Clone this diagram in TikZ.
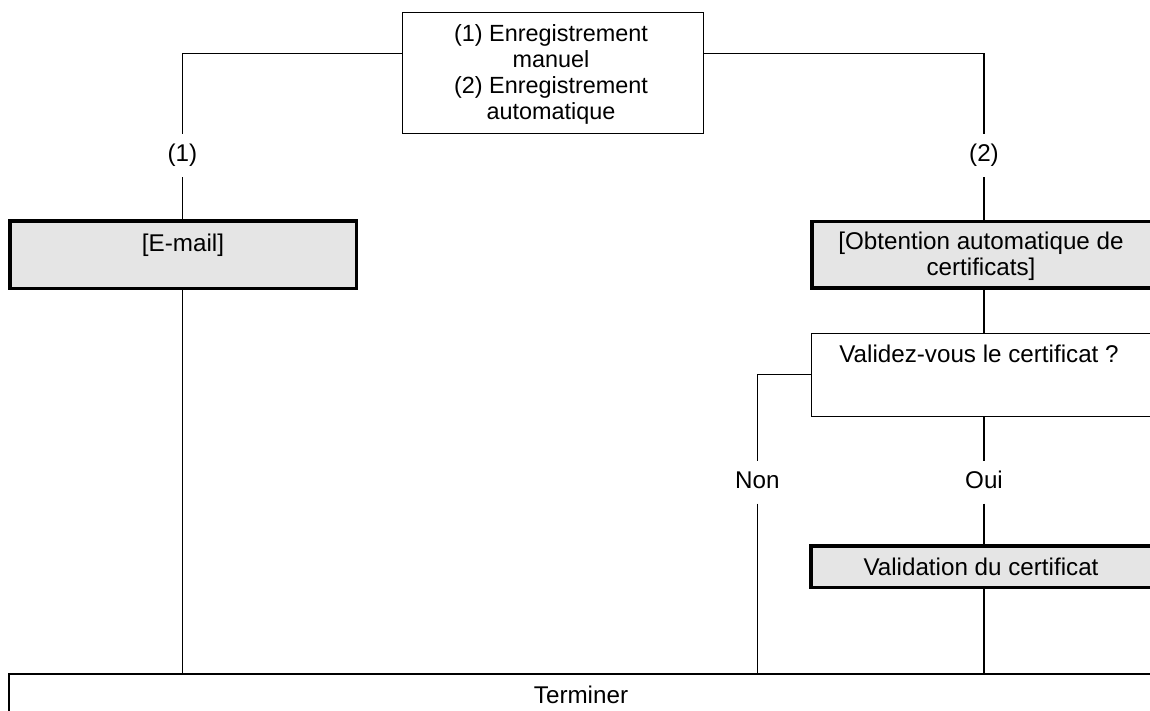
\documentclass[tikz,border=0pt]{standalone}
\usepackage{fontspec}
\setmainfont{Liberation Sans}
\begin{document}
\begin{tikzpicture}[x=1pt,y=-1pt,
  every node/.style={font=\fontsize{24.2}{26}\selectfont},
  thinbox/.style={draw, line width=1.2pt, rectangle, inner sep=0pt},
  graybox/.style={draw, fill=black!10, line width=3.5pt, rectangle, inner sep=0pt},
  txt/.style={anchor=base, inner sep=0pt},
  lbl/.style={inner xsep=2pt, inner ysep=10.5pt, text height=17pt, text depth=5pt},
  conn/.style={line width=1.2pt}]
\useasboundingbox (0,0) rectangle (1150,711);
\clip (0,0) rectangle (1150,711);
% boxes
\node[thinbox, minimum width=301pt, minimum height=121pt] (top) at (552.85,72.85) {};
\node[graybox, minimum width=346.5pt, minimum height=67pt] (email) at (183,254.75) {};
\node[graybox, minimum width=341.25pt, minimum height=66pt] (obt) at (982.4,254.75) {};
\node[thinbox, minimum width=341.65pt, minimum height=83pt] (val) at (982.2,374.85) {};
\node[graybox, minimum width=342.25pt, minimum height=41.5pt] (vld) at (981.9,566.5) {};
\node[thinbox, minimum width=1144pt, minimum height=66pt] (term) at (581,707) {};
% texts
\node[txt, font=\fontsize{23.4}{25.8}\selectfont] (toptxt) at (551,41.7) {\begin{tabular}[t]{@{}c@{}}(1) Enregistrement\\manuel\\(2) Enregistrement\\automatique\end{tabular}};
\node[txt] (emailtxt) at (183,251.3) {[E-mail]};
\node[txt] (obttxt) at (981,250) {\begin{tabular}[t]{@{}c@{}}[Obtention automatique de\\certificats]\end{tabular}};
\node[txt] (valtxt) at (979,362) {Validez-vous le certificat ?};
\node[txt] (vldtxt) at (981,575) {Validation du certificat};
\node[txt] (termtxt) at (581,703.3) {Terminer};
% connector labels
\node[lbl] (l1) at (182.3,155.5) {(1)};
\node[lbl] (l2) at (984,155.5) {(2)};
\node[lbl, inner ysep=10pt] (non) at (757.3,482.5) {Non};
\node[lbl, inner ysep=10pt] (oui) at (984,482.5) {Oui};
% connectors
\draw[conn] ([yshift=-42pt]top.north west) -| (l1.north);
\draw[conn] (l1.south) -- (l1.south |- email.north);
\draw[conn] ([yshift=-42pt]top.north east) -| (l2.north);
\draw[conn] (l2.south) -- (l2.south |- obt.north);
\draw[conn] (l2.south |- obt.south) -- (l2.south |- val.north);
\draw[conn] (val.west) -| (non.north);
\draw[conn] (non.south) -- (non.south |- term.north);
\draw[conn] (oui.north |- val.south) -- (oui.north);
\draw[conn] (oui.south) -- (oui.south |- vld.north);
\draw[conn] (oui.south |- vld.south) -- (oui.south |- term.north);
\draw[conn] (l1.south |- email.south) -- (l1.south |- term.north);
\end{tikzpicture}
\end{document}
